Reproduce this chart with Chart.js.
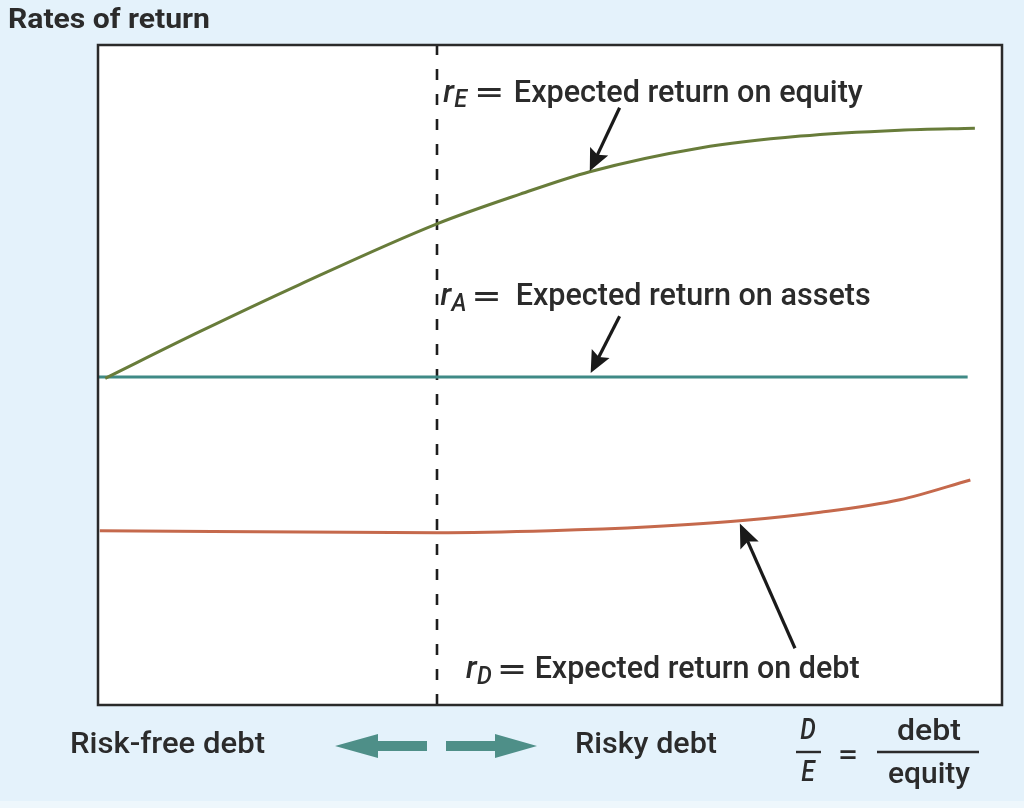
<!DOCTYPE html>
<html>
<head>
<meta charset="utf-8">
<script src="https://cdn.jsdelivr.net/npm/chart.js@4.4.0/dist/chart.umd.min.js"></script>
<style>
  html, body { margin: 0; padding: 0; background: #e4f2fb; }
  #wrap { width: 1024px; height: 808px; position: relative; }
</style>
</head>
<body>
<div id="wrap"><canvas id="c" width="1024" height="808"></canvas></div>
<script>
// ---- data (x = D/E position, y = rate of return; both on 0..100 scales) ----
const rE_x = [0.8, 11.3, 22.3, 37.5, 46.7, 54.4, 66.6, 77.7, 88.7, 97.0];
const rE_y = [49.5, 56.6, 63.7, 72.9, 77.4, 80.8, 84.4, 86.2, 87.1, 87.4];
const rA_x = [0, 96.2];
const rA_y = [49.7, 49.7];
const rD_x = [0.2, 37.5, 50.0, 61.1, 71.0, 79.9, 88.7, 96.5];
const rD_y = [26.4, 26.1, 26.4, 27.0, 27.9, 29.2, 31.1, 34.1];
const dividerX = 37.5;
const seriesNames = ['r_E', 'r_A', 'r_D'];
const labelTexts = ['Expected return on equity', 'Expected return on assets', 'Expected return on debt'];
const titleText = 'Rates of return';
const bottomLeftText = 'Risk-free debt';
const bottomRightText = 'Risky debt';

const pts = (xs, ys) => xs.map((x, i) => ({ x: x, y: ys[i] }));

const FONT = 'Roboto, "Liberation Sans", Arial, sans-serif';

function fitText(ctx, text, x, y, width, size, weight, italic, align, sx) {
  ctx.save();
  ctx.font = (italic ? 'italic ' : '') + (weight || 'normal') + ' ' + size + 'px ' + FONT;
  ctx.textBaseline = 'middle';
  ctx.textAlign = 'left';
  const w = ctx.measureText(text).width;
  const s = width ? width / w : (sx || 1);
  const realW = w * s;
  let left = x;
  if (align === 'center') left = x - realW / 2;
  ctx.translate(left, y);
  ctx.scale(s, 1);
  ctx.fillText(text, 0, 0);
  ctx.restore();
}

function arrow(ctx, x1, y1, x2, y2, color, lw, headLen, headW) {
  const a = Math.atan2(y2 - y1, x2 - x1);
  const bx = x2 - headLen * Math.cos(a), by = y2 - headLen * Math.sin(a);
  ctx.save();
  ctx.strokeStyle = color; ctx.fillStyle = color; ctx.lineWidth = lw;
  ctx.beginPath(); ctx.moveTo(x1, y1); ctx.lineTo(x2 - headLen * 0.8 * Math.cos(a), y2 - headLen * 0.8 * Math.sin(a)); ctx.stroke();
  ctx.beginPath();
  ctx.moveTo(x2, y2);
  ctx.lineTo(bx + headW / 2 * Math.sin(a), by - headW / 2 * Math.cos(a));
  ctx.lineTo(x2 - headLen * 0.82 * Math.cos(a), y2 - headLen * 0.82 * Math.sin(a));
  ctx.lineTo(bx - headW / 2 * Math.sin(a), by + headW / 2 * Math.cos(a));
  ctx.closePath(); ctx.fill();
  ctx.restore();
}

const decor = {
  id: 'decor',
  beforeDraw(chart) {
    const ctx = chart.ctx, a = chart.chartArea;
    ctx.save();
    ctx.fillStyle = '#e4f2fb';
    ctx.fillRect(0, 0, chart.width, chart.height);
    ctx.fillStyle = '#eef7fc';
    ctx.fillRect(0, 801, chart.width, chart.height - 801);
    ctx.fillStyle = '#ffffff';
    ctx.fillRect(a.left, a.top, a.right - a.left, a.bottom - a.top);
    ctx.restore();
  },
  afterDatasetsDraw(chart) {
    const ctx = chart.ctx, a = chart.chartArea;
    const X = v => chart.scales.x.getPixelForValue(v);
    const Y = v => chart.scales.y.getPixelForValue(v);
    // border
    ctx.save();
    ctx.strokeStyle = '#2a2a2a'; ctx.lineWidth = 2.5;
    ctx.strokeRect(a.left, a.top, a.right - a.left, a.bottom - a.top);
    ctx.restore();

    const txt = '#2b2b2b';
    ctx.fillStyle = txt;
    // title
    fitText(ctx, titleText, 8, 21, 202, 27, 'bold', false);

    // series labels (r_sub = Expected ...)
    const labels = [
      { sx: 38.2, sy: 92.6, sub: 'E', tx: 46.0, tw: 349 },
      { sx: 37.9, sy: 61.8, sub: 'A', tx: 46.2, tw: 355 },
      { sx: 40.7, sy: 5.2,  sub: 'D', tx: 48.3, tw: 325 }
    ];
    labels.forEach((l, i) => {
      const x0 = X(l.sx), y0 = Y(l.sy);
      ctx.fillStyle = txt;
      fitText(ctx, 'r', x0, y0, null, 31, '500', true);
      fitText(ctx, l.sub, x0 + 11, y0 + 7, null, 26, '500', true, null, 0.9);
      fitText(ctx, '=', x0 + 31, y0 + 1, 30, 30, '500', false);
      fitText(ctx, labelTexts[i], X(l.tx), y0, l.tw, 31, '500', false);
    });

    // annotation arrows (tail -> tip on curve)
    arrow(ctx, X(57.7), Y(90.5), X(54.4), Y(80.9), '#1a1a1a', 3.2, 22, 20);
    arrow(ctx, X(57.7), Y(58.9), X(54.5), Y(50.3), '#1a1a1a', 3.2, 22, 20);
    arrow(ctx, X(77.1), Y(8.6), X(71.0), Y(27.5), '#1a1a1a', 3.2, 24, 20);

    // bottom captions
    ctx.fillStyle = txt;
    fitText(ctx, bottomLeftText, 70, 745, 195, 30, '500', false);
    fitText(ctx, bottomRightText, 575, 745, 142, 30, '500', false);

    // teal double arrows
    ctx.save();
    ctx.fillStyle = '#4e8f88';
    ctx.beginPath();
    ctx.moveTo(335, 746); ctx.lineTo(378, 734); ctx.lineTo(378, 741); ctx.lineTo(427, 741);
    ctx.lineTo(427, 751); ctx.lineTo(378, 751); ctx.lineTo(378, 758); ctx.closePath(); ctx.fill();
    ctx.beginPath();
    ctx.moveTo(537, 746); ctx.lineTo(495, 734); ctx.lineTo(495, 741); ctx.lineTo(446, 741);
    ctx.lineTo(446, 751); ctx.lineTo(495, 751); ctx.lineTo(495, 758); ctx.closePath(); ctx.fill();
    ctx.restore();

    // D/E = debt / equity
    ctx.fillStyle = txt;
    fitText(ctx, 'D', 808, 732, null, 29, '500', true, 'center', 0.85);
    fitText(ctx, 'E', 808, 774, null, 29, '500', true, 'center', 0.85);
    fitText(ctx, '=', 848, 757, 20, 28, '500', false, 'center');
    fitText(ctx, 'debt', 929, 732, 64, 30, '500', false, 'center');
    fitText(ctx, 'equity', 929, 775, 82, 30, '500', false, 'center');
    ctx.save();
    ctx.strokeStyle = txt; ctx.lineWidth = 2.4;
    ctx.beginPath(); ctx.moveTo(796, 752); ctx.lineTo(821, 752); ctx.stroke();
    ctx.beginPath(); ctx.moveTo(877, 752); ctx.lineTo(979, 752); ctx.stroke();
    ctx.restore();
  }
};

new Chart(document.getElementById('c'), {
  type: 'scatter',
  data: {
    datasets: [
      { label: 'divider', data: [{ x: dividerX, y: 0 }, { x: dividerX, y: 100 }], showLine: true,
        borderColor: '#1e1e1e', borderWidth: 2.6, borderDash: [11, 14], pointRadius: 0, order: 5 },
      { label: seriesNames[0], data: pts(rE_x, rE_y), showLine: true, borderColor: '#687c3a',
        borderWidth: 3, pointRadius: 0, cubicInterpolationMode: 'monotone' },
      { label: seriesNames[1], data: pts(rA_x, rA_y), showLine: true, borderColor: '#3f8a86',
        borderWidth: 3, pointRadius: 0 },
      { label: seriesNames[2], data: pts(rD_x, rD_y), showLine: true, borderColor: '#c5694c',
        borderWidth: 3, pointRadius: 0, cubicInterpolationMode: 'monotone' }
    ]
  },
  options: {
    responsive: false,
    animation: false,
    devicePixelRatio: 1,
    layout: { padding: { left: 98, right: 22, top: 45, bottom: 103 } },
    scales: {
      x: { type: 'linear', min: 0, max: 100, display: false },
      y: { type: 'linear', min: 0, max: 100, display: false }
    },
    plugins: { legend: { display: false }, tooltip: { enabled: false } },
    elements: { line: { borderCapStyle: 'butt' } }
  },
  plugins: [decor]
});
</script>
</body>
</html>
